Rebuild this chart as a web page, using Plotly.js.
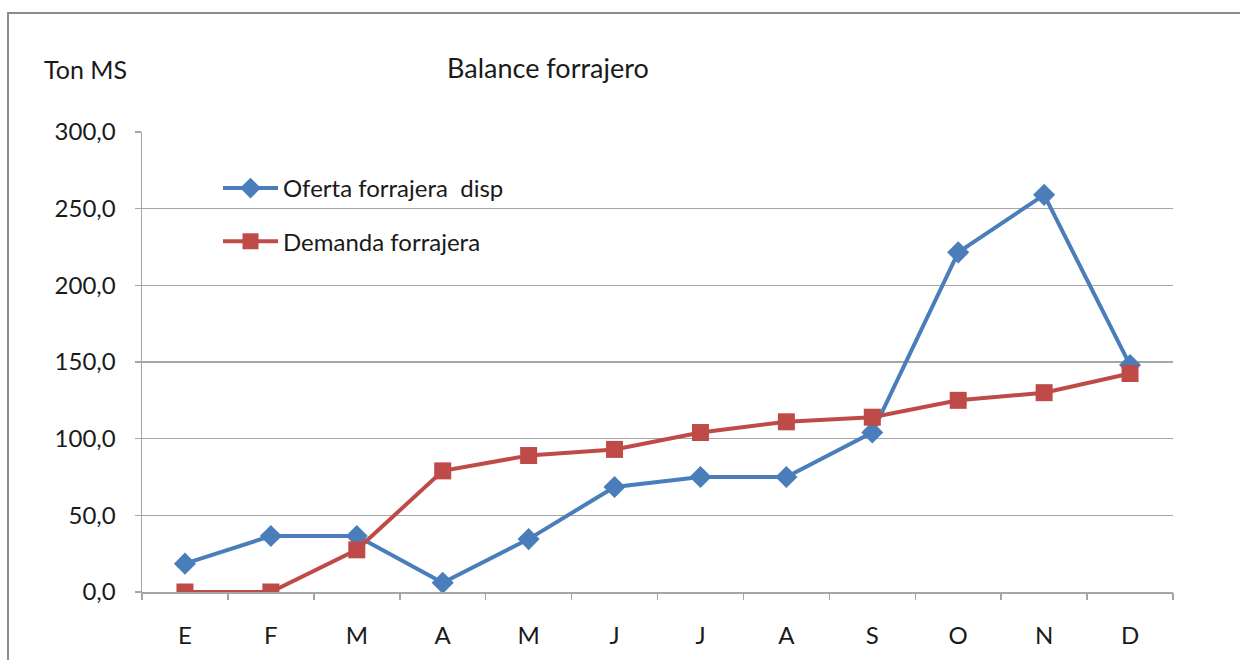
<!DOCTYPE html>
<html>
<head>
<meta charset="utf-8">
<script src="https://cdn.plot.ly/plotly-3.0.1.min.js"></script>
<style>
html,body{margin:0;padding:0;background:#fff;}
#chart{width:1240px;height:660px;}
</style>
</head>
<body>
<div id="chart"></div>
<script>
var months = ['E','F','M','A','M','J','J','A','S','O','N','D'];
var oferta = [18.5, 36.5, 36.5, 6.0, 34.5, 68.5, 75.0, 75.0, 104.0, 221.5, 259.0, 148.0];
var demanda = [0.0, 0.0, 27.5, 79.0, 89.0, 93.0, 104.0, 111.0, 114.0, 125.0, 130.0, 142.5];
var seriesNames = ['Oferta forrajera  disp', 'Demanda forrajera'];
var yTicks = [0, 50, 100, 150, 200, 250, 300];

var idx = months.map(function(_, i){ return i; });
var bounds = months.map(function(_, i){ return i - 0.5; }).concat([months.length - 0.5]);

var FONT = 'Lato, "Open Sans", sans-serif';
var GRID = '#a6a6a6';
var TXT = '#1a1a1a';

var traces = [
  {x: idx, y: oferta, name: seriesNames[0], type: 'scatter', mode: 'lines+markers',
   legendgroup: 'a',
   line: {color: '#4a7ebb', width: 4},
   marker: {symbol: 'diamond', size: 17, color: '#4a7ebb'}},
  {x: idx, y: demanda, name: seriesNames[1], type: 'scatter', mode: 'lines+markers',
   legendgroup: 'b',
   line: {color: '#be4b48', width: 4},
   marker: {symbol: 'square', size: 17, color: '#be4b48'}},
  {x: bounds, y: bounds.map(function(){ return null; }), xaxis: 'x2', type: 'scatter',
   mode: 'lines', showlegend: false, hoverinfo: 'skip'}
];

var layout = {
  width: 1240, height: 660,
  margin: {l: 142, r: 67, t: 132, b: 68},
  paper_bgcolor: '#ffffff', plot_bgcolor: '#ffffff',
  separators: ', ',
  font: {family: FONT, size: 24, color: TXT},
  title: {text: 'Balance forrajero', font: {family: FONT, size: 27, color: TXT},
          xref: 'container', yref: 'container', x: 447/1240, xanchor: 'left',
          y: 1 - 69/660, yanchor: 'middle'},
  xaxis: {range: [-0.5, months.length - 0.5], tickvals: idx, ticktext: months,
          showgrid: false, zeroline: false, showline: true, linecolor: GRID, linewidth: 1.5,
          ticks: '', ticklabelstandoff: 22, tickfont: {family: FONT, size: 24, color: TXT},
          fixedrange: true},
  xaxis2: {overlaying: 'x', range: [-0.5, months.length - 0.5], tickvals: bounds,
           showticklabels: false, ticks: 'outside', ticklen: 7, tickcolor: GRID, tickwidth: 1.5,
           showgrid: false, zeroline: false, showline: false, side: 'bottom', anchor: 'y'},
  yaxis: {range: [0, 300], tickvals: yTicks, tickformat: '.1f',
          showgrid: true, gridcolor: GRID, gridwidth: 1.5, zeroline: false,
          showline: true, linecolor: GRID, linewidth: 1.5,
          ticks: 'outside', ticklen: 6, tickcolor: GRID, tickwidth: 1.5,
          ticklabelstandoff: 14, tickfont: {family: FONT, size: 24, color: TXT}},
  showlegend: true,
  legend: {x: (218-142)/1031, y: (592-166)/460, xanchor: 'left', yanchor: 'top',
           bgcolor: 'rgba(0,0,0,0)', borderwidth: 0, itemwidth: 55,
           tracegroupgap: 19, traceorder: 'grouped',
           font: {family: FONT, size: 24, color: TXT}},
  annotations: [
    {text: 'Ton MS', xref: 'paper', yref: 'paper', x: (42-142)/1031, y: (592-69)/460,
     xanchor: 'left', yanchor: 'middle', showarrow: false,
     font: {family: FONT, size: 25, color: TXT}}
  ],
  shapes: [
    {type: 'rect', xref: 'paper', yref: 'paper',
     x0: (8-142)/1031, x1: 1.2, y0: -0.3, y1: (592-13)/460,
     line: {color: '#8c8c8c', width: 2}, fillcolor: 'rgba(0,0,0,0)', layer: 'below'}
  ]
};

Plotly.newPlot('chart', traces, layout, {displayModeBar: false, staticPlot: true});
</script>
</body>
</html>
